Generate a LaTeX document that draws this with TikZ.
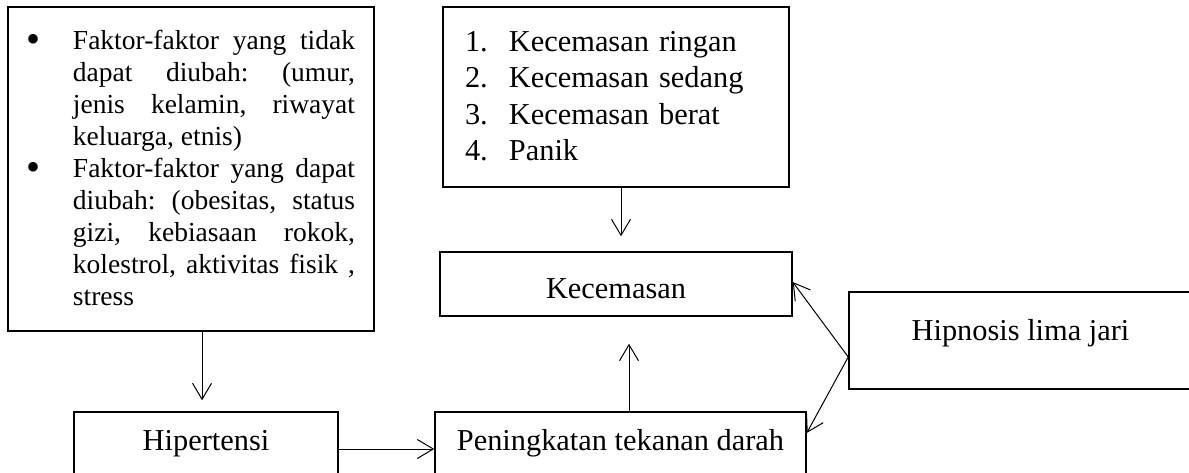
\documentclass[tikz,border=0pt]{standalone}
\usepackage{fontspec}
\setmainfont{Liberation Serif}
\usetikzlibrary{arrows.meta,calc}

\tikzset{
	box/.style={draw, line width=0.6pt, inner sep=0pt, font=\fontsize{12.15}{14.6}\selectfont},
	arr/.style={line width=0.4pt, -{Straight Barb[length=6.4pt,width=7.6pt]}}
}
\newcommand\faktoritem{\par\leftskip=18.4pt\noindent\hspace*{-18.4pt}\makebox[18.4pt][l]{\raisebox{-1pt}{\fontsize{16}{16}\selectfont\textbullet}}}
\newcommand\tingkat[1]{\par\noindent\makebox[17.6pt][l]{#1}}
\newcommand\ruang[1]{\par\vspace{#1}\hrule height 0pt width 0pt}

\begin{document}
\begin{tikzpicture}[x=0.4pt, y=-0.4pt]
			%%%%% START %%%%%
			\useasboundingbox (0,0) rectangle (1189,473);
			\clip (0,0) rectangle (1189,473);
			
			\node[box, minimum width=146.4pt, minimum height=129.6pt, text width=131.2pt, align=justify, font=\fontsize{11}{12.8}\selectfont\frenchspacing] (faktor) at (191,169)
				{\faktoritem Faktor-faktor yang tidak\linebreak dapat diubah: (umur,\linebreak jenis kelamin, riwayat\linebreak keluarga, etnis)
				\faktoritem Faktor-faktor yang dapat\linebreak diubah: (obesitas, status\linebreak gizi, kebiasaan rokok,\linebreak kolestrol, aktivitas fisik ,\linebreak stress\ruang{5.6pt}};
			
			\node[box, minimum width=138.4pt, minimum height=72pt, text width=120.8pt, align=left] (tingkat) at (616,97)
				{\tingkat{1.}Kecemasan ringan\tingkat{2.}Kecemasan sedang\tingkat{3.}Kecemasan berat\tingkat{4.}Panik\ruang{7.2pt}};
			
			\node[box, minimum width=140.8pt, minimum height=25.6pt, text height=11.2pt, text depth=0pt] (kecemasan) at (616,284) {Kecemasan};
			\node[box, minimum width=137.2pt, minimum height=38.8pt, text height=6pt, text depth=6pt] (hipnosis) at (1020.5,340.5) {Hipnosis lima jari};
			\node[box, minimum width=105.6pt, minimum height=29.6pt, text height=6pt, text depth=5.2pt] (hipertensi) at (206,449) {Hipertensi};
			\node[box, minimum width=148.4pt, minimum height=29.6pt, text height=6pt, text depth=5.2pt] (peningkatan) at (620.5,449) {Peningkatan tekanan darah};
			
			\draw[arr, shorten >=4.4pt] ($(faktor.south west)!0.53!(faktor.south east)$) coordinate (f1) -- (f1 |- hipertensi.north);
			\draw[arr, shorten >=6pt] ($(tingkat.south)+(5,0)$) coordinate (t1) -- (t1 |- kecemasan.north);
			\draw[arr] (hipertensi.east) -- (peningkatan.west);
			\draw[arr, shorten >=10.8pt] ($(peningkatan.north)+(8.5,0)$) coordinate (p1) -- (p1 |- kecemasan.south);
			
			\draw[arr] ($(hipnosis.west)+(0,16.5)$) coordinate (h1) -- ($(kecemasan.east)+(0,-2)$);
			\draw[arr] (h1) -- ($(peningkatan.east)+(0,-16)$);
			
			%%%%% END %%%%%
\end{tikzpicture}
\end{document}
